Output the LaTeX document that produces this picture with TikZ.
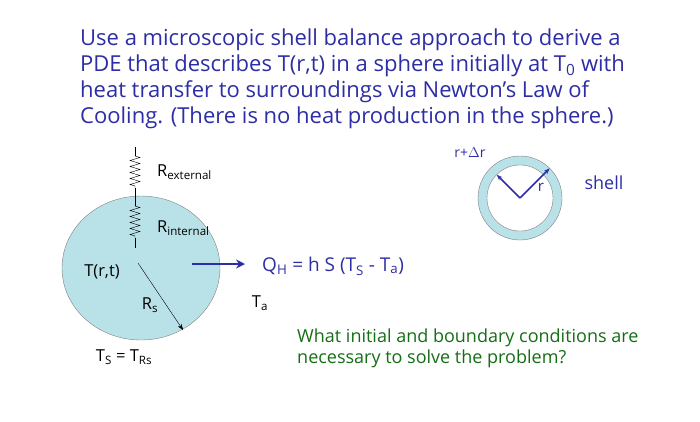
\documentclass[tikz,border=0pt]{standalone}
\usepackage{fontspec}
\setmainfont{Open Sans}
\usetikzlibrary{decorations.pathmorphing,arrows.meta,shapes.geometric}
\definecolor{ttl}{RGB}{45,45,165}
\definecolor{sph}{RGB}{185,226,232}
\definecolor{grn}{RGB}{20,110,20}
\tikzset{res/.style={decorate,decoration={zigzag,segment length=6pt,amplitude=5pt}},
 lbl/.style={font=\fontsize{16.5}{18}\selectfont,inner sep=0pt}}
\begin{document}
\begin{tikzpicture}[x=1pt,y=-1pt]
\useasboundingbox (0,0) rectangle (700,421);
\node[anchor=north west,align=left,text=ttl,font=\fontsize{22}{26}\selectfont,inner sep=0pt] (title) at (80,29)
{Use a microscopic shell balance approach to derive a\\PDE that describes T(r,t) in a sphere initially at T\textsubscript{0} with\\heat transfer to surroundings via Newton’s Law of\\Cooling. (There is no heat production in the sphere.)};
\node[draw=gray,fill=sph,ellipse,minimum width=158,minimum height=144,inner sep=0] (sp) at (141,268) {};
\coordinate (w0) at (135,147); \coordinate (w1) at (135,156); \coordinate (w2) at (135,188);
\coordinate (w3) at (135,206); \coordinate (w4) at (135,238); \coordinate (w5) at (135,248);
\draw (w0)--(w1); \draw[res] (w1)--(w2); \draw (w2)--(w3); \draw[res] (w3)--(w4); \draw (w4)--(w5);
\node[lbl,anchor=west] (re) at (157,172) {R\textsubscript{external}};
\node[lbl,anchor=west] (ri) at (157,228) {R\textsubscript{internal}};
\node[lbl] (trt) at (102,272) {T(r,t)};
\coordinate (a0) at (138,263); \coordinate (a1) at (183,330);
\draw[-{Stealth[length=6pt]}] (a0)--(a1);
\node[lbl] (rs) at (150,305) {R\textsubscript{s}};
\node[lbl] (ta) at (260,303) {T\textsubscript{a}};
\node[lbl] (ts) at (124,357) {T\textsubscript{S} = T\textsubscript{Rs}};
\coordinate (q0) at (192,264); \coordinate (q1) at (245,264);
\draw[ttl,line width=2pt,-{Stealth[length=9pt,width=9pt]}] (q0)--(q1);
\node[lbl,anchor=west,text=ttl,font=\fontsize{19}{21}\selectfont] (qh) at (262,266) {Q\textsubscript{H} = h S (T\textsubscript{S} - T\textsubscript{a})};
\node[anchor=north west,align=left,text=grn,font=\fontsize{18}{21}\selectfont,inner sep=0pt] (q) at (297,329)
{What initial and boundary conditions are\\necessary to solve the problem?};
% shell
\coordinate (c) at (520,198);
\fill[sph,draw=gray] (c) circle (42);
\fill[white,draw=gray] (c) circle (33);
\draw[ttl,line width=1.5pt,-{Stealth[length=6pt]}] (c)--++(45:-33) coordinate (e1);
\draw[ttl,line width=1.5pt,-{Stealth[length=6pt]}] (c)--++(135:-42) coordinate (e2);
\node[lbl,text=ttl,font=\fontsize{15}{17}\selectfont] (r) at (541,187) {r};
\node[lbl,text=ttl,font=\fontsize{14}{16}\selectfont] (rdr) at (470,153) {r+$\Delta$r};
\node[lbl,text=ttl,font=\fontsize{18}{20}\selectfont] (sh) at (604,183) {shell};
\end{tikzpicture}
\end{document}
